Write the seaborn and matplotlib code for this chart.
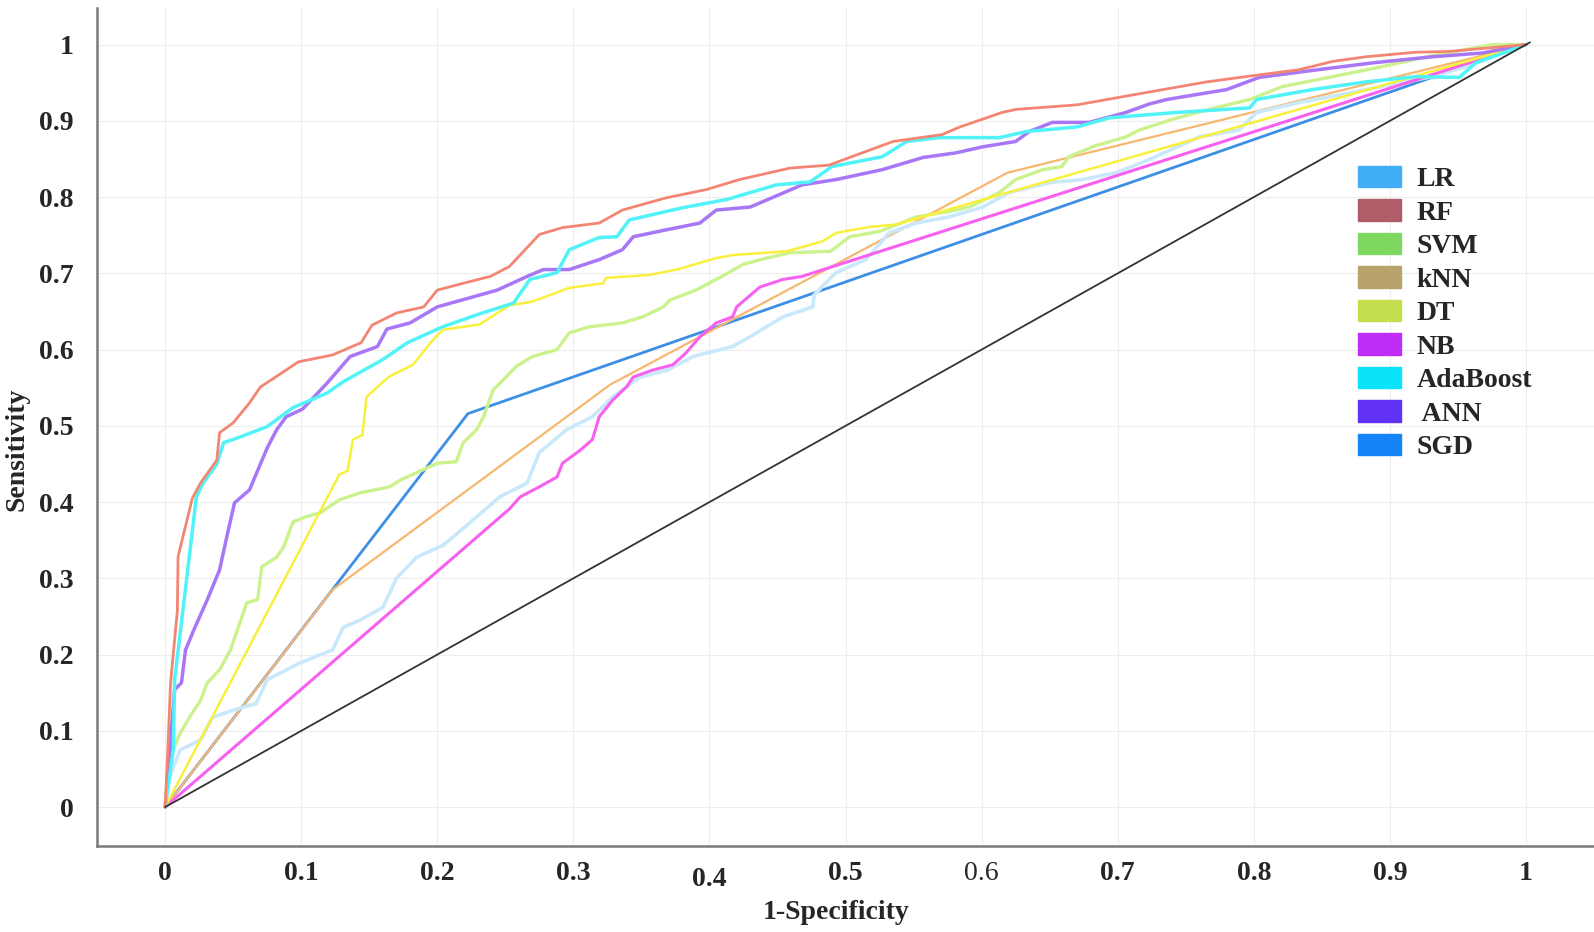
import numpy as np
import pandas as pd
import seaborn as sns
import matplotlib.pyplot as plt
from matplotlib.patches import Patch
from matplotlib.transforms import ScaledTranslation

# ROC points (1-specificity, sensitivity)
rf_fpr = [0, 0.002, 0.004, 0.009, 0.0095, 0.013, 0.020, 0.026, 0.038, 0.040, 0.050, 0.062, 0.070, 0.082, 0.098,
          0.123, 0.144, 0.152, 0.170, 0.190, 0.200, 0.219, 0.239, 0.253, 0.275, 0.292, 0.319, 0.336, 0.368, 0.398,
          0.422, 0.459, 0.488, 0.503, 0.535, 0.571, 0.584, 0.615, 0.625, 0.670, 0.711, 0.765, 0.794, 0.833, 0.858,
          0.882, 0.919, 0.943, 1]
rf_tpr = [0, 0.075, 0.163, 0.258, 0.328, 0.354, 0.405, 0.425, 0.455, 0.491, 0.504, 0.530, 0.551, 0.565, 0.584,
          0.593, 0.609, 0.632, 0.648, 0.656, 0.678, 0.687, 0.696, 0.709, 0.751, 0.760, 0.766, 0.783, 0.799, 0.810,
          0.823, 0.838, 0.842, 0.852, 0.873, 0.882, 0.892, 0.911, 0.915, 0.921, 0.934, 0.951, 0.958, 0.967, 0.978,
          0.984, 0.990, 0.991, 1]

ada_fpr = [0, 0.006, 0.007, 0.023, 0.028, 0.038, 0.043, 0.053, 0.075, 0.094, 0.119, 0.131, 0.160, 0.178, 0.204,
           0.233, 0.256, 0.268, 0.288, 0.297, 0.319, 0.332, 0.341, 0.380, 0.413, 0.449, 0.474, 0.490, 0.527, 0.545,
           0.569, 0.613, 0.633, 0.670, 0.694, 0.743, 0.797, 0.802, 0.843, 0.882, 0.919, 0.951, 0.963, 1]
ada_tpr = [0, 0.075, 0.167, 0.407, 0.425, 0.450, 0.478, 0.484, 0.499, 0.524, 0.543, 0.558, 0.587, 0.609, 0.630,
           0.648, 0.661, 0.692, 0.701, 0.731, 0.747, 0.748, 0.770, 0.786, 0.797, 0.816, 0.820, 0.840, 0.853, 0.873,
           0.878, 0.878, 0.886, 0.892, 0.904, 0.911, 0.917, 0.928, 0.941, 0.951, 0.958, 0.957, 0.976, 1]

ann_fpr = [0, 0.002, 0.005, 0.007, 0.012, 0.015, 0.021, 0.031, 0.040, 0.046, 0.051, 0.062, 0.075, 0.082, 0.089,
           0.101, 0.119, 0.136, 0.156, 0.163, 0.180, 0.200, 0.224, 0.244, 0.266, 0.278, 0.297, 0.319, 0.336, 0.344,
           0.368, 0.393, 0.405, 0.430, 0.468, 0.493, 0.527, 0.557, 0.581, 0.601, 0.625, 0.635, 0.652, 0.679, 0.706,
           0.723, 0.736, 0.780, 0.804, 0.838, 0.887, 0.931, 0.968, 1]
ann_tpr = [0, 0.030, 0.110, 0.154, 0.163, 0.206, 0.232, 0.272, 0.311, 0.360, 0.399, 0.416, 0.471, 0.495, 0.512,
           0.522, 0.556, 0.591, 0.604, 0.627, 0.635, 0.656, 0.668, 0.678, 0.696, 0.705, 0.705, 0.718, 0.731, 0.748,
           0.757, 0.766, 0.783, 0.787, 0.816, 0.823, 0.836, 0.852, 0.858, 0.866, 0.873, 0.886, 0.898, 0.898, 0.911,
           0.922, 0.928, 0.941, 0.957, 0.965, 0.976, 0.984, 0.989, 1]

dt_fpr = [0, 0.128, 0.134, 0.138, 0.145, 0.148, 0.156, 0.165, 0.182, 0.195, 0.204, 0.231, 0.253, 0.270, 0.297,
          0.322, 0.324, 0.356, 0.376, 0.405, 0.417, 0.457, 0.483, 0.493, 0.518, 0.537, 0.970, 1]
dt_tpr = [0, 0.436, 0.441, 0.482, 0.488, 0.538, 0.551, 0.565, 0.580, 0.609, 0.626, 0.633, 0.658, 0.663, 0.681,
          0.687, 0.694, 0.698, 0.705, 0.720, 0.724, 0.729, 0.742, 0.753, 0.761, 0.764, 0.985, 1]

svm_fpr = [0, 0.002, 0.006, 0.011, 0.018, 0.026, 0.031, 0.040, 0.048, 0.053, 0.060, 0.068, 0.071, 0.082, 0.087,
           0.094, 0.104, 0.114, 0.128, 0.143, 0.165, 0.173, 0.189, 0.200, 0.214, 0.219, 0.229, 0.234, 0.241, 0.251,
           0.258, 0.270, 0.288, 0.297, 0.312, 0.336, 0.351, 0.366, 0.371, 0.390, 0.407, 0.425, 0.442, 0.459, 0.489,
           0.503, 0.525, 0.552, 0.576, 0.591, 0.613, 0.625, 0.645, 0.659, 0.664, 0.683, 0.706, 0.716, 0.740, 0.767,
           0.797, 0.821, 0.858, 0.894, 0.927, 0.975, 1]
svm_tpr = [0, 0.049, 0.075, 0.097, 0.118, 0.140, 0.163, 0.180, 0.206, 0.232, 0.268, 0.272, 0.315, 0.328, 0.341,
           0.374, 0.381, 0.386, 0.403, 0.412, 0.420, 0.429, 0.442, 0.451, 0.453, 0.478, 0.495, 0.512, 0.547, 0.565,
           0.578, 0.591, 0.600, 0.622, 0.630, 0.635, 0.643, 0.656, 0.665, 0.678, 0.694, 0.712, 0.720, 0.727, 0.729,
           0.748, 0.755, 0.774, 0.781, 0.787, 0.806, 0.823, 0.836, 0.840, 0.853, 0.867, 0.879, 0.888, 0.902, 0.915,
           0.928, 0.945, 0.958, 0.971, 0.984, 1.0, 1]

sgd_fpr = [0, 0.2225, 1]
sgd_tpr = [0, 0.516, 1]

knn_fpr = [0, 0.123, 0.327, 0.619, 0.962, 1]
knn_tpr = [0, 0.285, 0.554, 0.832, 0.983, 1]

nb_fpr = [0, 0.253, 0.261, 0.275, 0.288, 0.292, 0.305, 0.314, 0.319, 0.329, 0.339, 0.344, 0.358, 0.373, 0.383,
          0.393, 0.405, 0.417, 0.420, 0.437, 0.454, 0.468, 1]
nb_tpr = [0, 0.391, 0.407, 0.420, 0.433, 0.451, 0.468, 0.482, 0.512, 0.534, 0.551, 0.564, 0.573, 0.580, 0.596,
          0.617, 0.635, 0.643, 0.656, 0.682, 0.692, 0.696, 1]

lr_fpr = [0, 0.002, 0.006, 0.011, 0.026, 0.035, 0.050, 0.067, 0.075, 0.099, 0.123, 0.131, 0.143, 0.160, 0.170,
          0.185, 0.204, 0.222, 0.246, 0.266, 0.275, 0.295, 0.314, 0.329, 0.349, 0.369, 0.388, 0.417, 0.430, 0.454,
          0.476, 0.477, 0.493, 0.515, 0.532, 0.552, 0.576, 0.601, 0.620, 0.650, 0.674, 0.699, 0.723, 0.760, 0.789,
          0.802, 0.833, 0.863, 0.894, 0.931, 0.956, 1]
lr_tpr = [0, 0.031, 0.052, 0.075, 0.088, 0.118, 0.127, 0.136, 0.167, 0.189, 0.206, 0.236, 0.245, 0.262, 0.300,
          0.328, 0.343, 0.370, 0.407, 0.425, 0.465, 0.495, 0.512, 0.538, 0.564, 0.573, 0.591, 0.604, 0.617, 0.643,
          0.656, 0.672, 0.701, 0.718, 0.753, 0.766, 0.774, 0.787, 0.806, 0.819, 0.823, 0.832, 0.849, 0.879, 0.888,
          0.911, 0.924, 0.934, 0.945, 0.958, 0.971, 1]

models = ["LR", "RF", "SVM", "kNN", "DT", "NB", "AdaBoost", " ANN", "SGD"]
legend_colors = ["#40adf7", "#b05c69", "#7dd862", "#b9a36d", "#c3df4e", "#c02cf8", "#0ae4fb", "#6231f6", "#1684f9"]
x_ticks = [0, 0.1, 0.2, 0.3, 0.4, 0.5, 0.6, 0.7, 0.8, 0.9, 1]
tick_labels = ["0", "0.1", "0.2", "0.3", "0.4", "0.5", "0.6", "0.7", "0.8", "0.9", "1"]

sns.set_style("whitegrid", {"grid.color": "#ededed", "axes.edgecolor": "#808080"})
plt.rcParams['font.family'] = ['Liberation Serif', 'DejaVu Serif']

fig = plt.figure(figsize=(15.94, 9.32), dpi=100)
ax = fig.add_axes([0.0609, 0.0923, 0.9391, 0.8991])

curves = [
    (sgd_fpr, sgd_tpr, "#3d8fe6", 2.0),
    (knn_fpr, knn_tpr, "#f7b771", 1.6),
    (lr_fpr, lr_tpr, "#c9e9fb", 2.6),
    (nb_fpr, nb_tpr, "#f860f0", 2.2),
    (svm_fpr, svm_tpr, "#cbf28c", 2.4),
    (dt_fpr, dt_tpr, "#f9f03c", 1.8),
    (ann_fpr, ann_tpr, "#a877f5", 2.5),
    (ada_fpr, ada_tpr, "#52f3f8", 2.5),
    (rf_fpr, rf_tpr, "#f38673", 2.0),
]
for fpr, tpr, col, lw in curves:
    sns.lineplot(x=fpr, y=tpr, sort=False, estimator=None, color=col, linewidth=lw, ax=ax)

sns.lineplot(x=[0, 1.003], y=[0, 1.003], sort=False, estimator=None, color="#333333", linewidth=1.3, ax=ax)

ax.set_xlim(-0.05, 1.05)
ax.set_ylim(-0.051, 1.048)
ax.set_xticks(x_ticks)
ax.set_xticklabels(tick_labels, fontsize=20, fontweight="bold")
ax.set_yticks(x_ticks)
ax.set_yticklabels(tick_labels, fontsize=20, fontweight="bold")
ax.tick_params(axis="x", length=0, pad=11)
ax.tick_params(axis="y", length=0, pad=17)

# quirks of the original labels
xl = ax.get_xticklabels()
xl[6].set_fontweight("normal")
xl[4].set_transform(xl[4].get_transform() + ScaledTranslation(0, -4 / 72, fig.dpi_scale_trans))

ax.set_xlabel("1-Specificity", fontsize=20, fontweight="bold")
ax.set_ylabel("Sensitivity", fontsize=20, fontweight="bold")
ax.yaxis.set_label_coords(-0.045, 0.473)
ax.xaxis.set_label_coords(0.494, -0.065)

for s in ["top", "right"]:
    ax.spines[s].set_visible(False)
for s in ["left", "bottom"]:
    ax.spines[s].set_linewidth(1.8)
    ax.spines[s].set_color("#7a7a7a")

handles = [Patch(facecolor=c, edgecolor=c) for c in legend_colors]
fig.legend(handles, models, loc="upper left", bbox_to_anchor=(1358 / 1594, 1 - 166 / 932),
           bbox_transform=fig.transFigure, frameon=False, borderpad=0, borderaxespad=0,
           handlelength=1.55, handleheight=0.8, handletextpad=0.55, labelspacing=0.26,
           prop={"family": "Liberation Serif", "weight": "bold", "size": 20})

fig.savefig("out.png", dpi=100)
